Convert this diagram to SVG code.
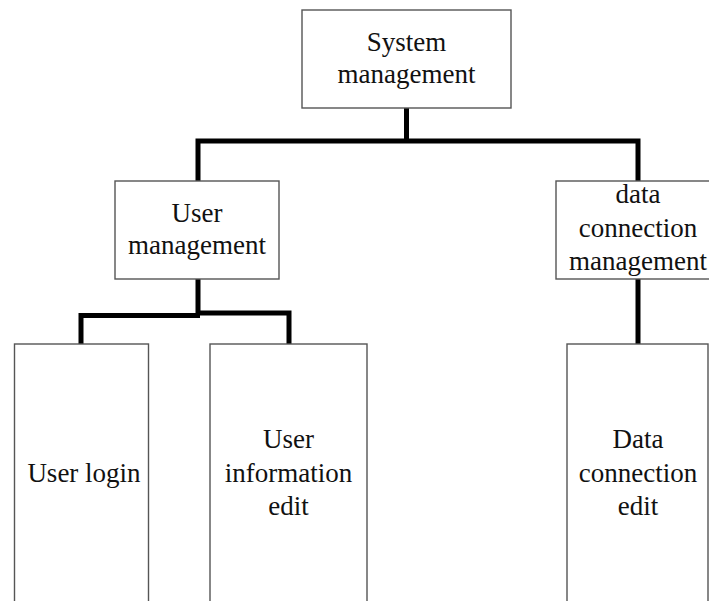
<svg xmlns="http://www.w3.org/2000/svg" width="709" height="601" viewBox="0 0 709 601">
  <style>
    .box { fill: #ffffff; stroke: #555555; stroke-width: 1.4; }
    .label { font-family: "Liberation Serif", "Times New Roman", serif; font-size: 27px; fill: #111111; text-anchor: middle; }
    .link { fill: none; stroke: #000000; stroke-width: 5; stroke-linejoin: miter; stroke-linecap: butt; }
  </style>
  <rect width="709" height="601" fill="#ffffff"/>

  <!-- tree connectors -->
  <g id="connectors">
    <path class="link" d="M406.5,108 V141"/>
    <path class="link" d="M198,181 V141 H638 V181"/>
    <path class="link" d="M198,279 V313 H289 V344"/>
    <path class="link" d="M81,344 V315.5 H200"/>
    <path class="link" d="M638,279 V344"/>
  </g>

  <g id="system-management">
    <rect class="box" x="302" y="10" width="209" height="98"/>
    <text class="label" x="406.5" y="51">System</text>
    <text class="label" x="406.5" y="83">management</text>
  </g>

  <g id="user-management">
    <rect class="box" x="115" y="181" width="164" height="98"/>
    <text class="label" x="197" y="222">User</text>
    <text class="label" x="197" y="254">management</text>
  </g>

  <g id="data-connection-management">
    <rect class="box" x="556" y="181" width="160" height="98"/>
    <text class="label" x="638" y="203">data</text>
    <text class="label" x="638" y="237">connection</text>
    <text class="label" x="638" y="270">management</text>
  </g>

  <g id="user-login">
    <rect class="box" x="14.5" y="344" width="134" height="280"/>
    <text class="label" x="84" y="482">User login</text>
  </g>

  <g id="user-information-edit">
    <rect class="box" x="210" y="344" width="157" height="280"/>
    <text class="label" x="288.5" y="448">User</text>
    <text class="label" x="288.5" y="482">information</text>
    <text class="label" x="288.5" y="515">edit</text>
  </g>

  <g id="data-connection-edit">
    <rect class="box" x="567" y="344" width="141" height="280"/>
    <text class="label" x="638" y="448">Data</text>
    <text class="label" x="638" y="482">connection</text>
    <text class="label" x="638" y="515">edit</text>
  </g>
</svg>
